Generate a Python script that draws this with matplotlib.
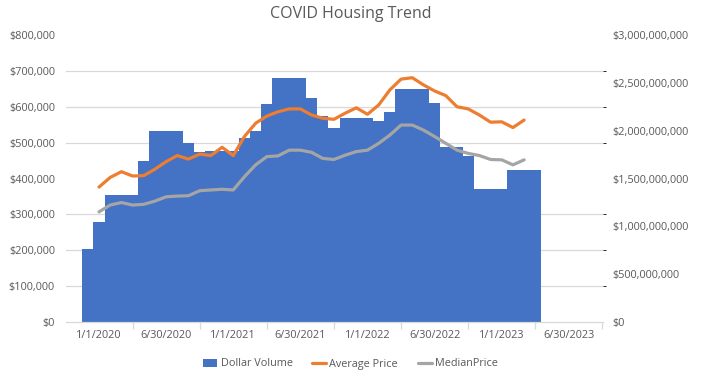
import numpy as np
import matplotlib
matplotlib.use("Agg")
import matplotlib.pyplot as plt
from matplotlib.ticker import FuncFormatter, FixedLocator, MultipleLocator

plt.rcParams["font.family"] = ["Open Sans", "DejaVu Sans"]

# month index: 0 = Jan 2020
bar_months = np.arange(-1, 40)
dollar_volume = np.array([
    766, 1048, 1324, 1324, 1324, 1686, 1997, 1997, 1997, 1868,
    1775, 1785, 1785, 1785, 1927, 1997, 2276, 2547, 2547, 2547,
    2345, 2157, 2031, 2129, 2129, 2129, 2104, 2192, 2432, 2432,
    2432, 2286, 1826, 1826, 1740, 1387, 1387, 1387, 1589, 1589,
    1589]) * 1e6

line_months = np.arange(0, 39)
average_price = np.array([
    376, 403, 419, 407, 408, 426, 447, 464, 454, 468,
    464, 487, 464, 517, 554, 574, 586, 594, 594, 577,
    568, 565, 582, 597, 579, 605, 647, 677, 681, 661,
    644, 631, 600, 594, 577, 557, 558, 542, 563]) * 1e3
median_price = np.array([
    307, 326, 333, 326, 328, 337, 349, 351, 352, 366,
    368, 370, 368, 405, 438, 461, 463, 479, 479, 473,
    456, 453, 465, 475, 479, 498, 521, 549, 549, 535,
    517, 498, 479, 470, 464, 453, 452, 438, 452]) * 1e3

label_months = [0, 6, 12, 18, 24, 30, 36, 42]
tick_labels = ["1/1/2020", "6/30/2020", "1/1/2021", "6/30/2021",
               "1/1/2022", "6/30/2022", "1/1/2023", "6/30/2023"]

BLUE = "#4472C4"
ORANGE = "#ED7D31"
GRAY = "#A5A5A5"
TEXT = "#595959"
GRID = "#D9D9D9"

fig = plt.figure(figsize=(7.01, 3.83), dpi=100)
ax = fig.add_axes([66 / 701, 61 / 383, 537 / 701, 287 / 383])
ax2 = ax.twinx()

# bars on the secondary axis, drawn underneath the lines
ax2.bar(bar_months, dollar_volume, width=1.0, color=BLUE, label="Dollar Volume", zorder=2)
ax2.set_ylim(0, 3e9)
ax2.yaxis.set_major_locator(MultipleLocator(5e8))
ax2.yaxis.set_major_formatter(FuncFormatter(lambda v, p: f"${v:,.0f}"))
# gridlines every $100,000 on the left scale (= 375M on the right scale)
ax2.yaxis.set_minor_locator(MultipleLocator(3.75e8))
ax2.grid(axis="y", which="minor", color=GRID, linewidth=0.9, zorder=0)
ax2.set_axisbelow(True)

ax.set_zorder(ax2.get_zorder() + 1)
ax.patch.set_visible(False)

ax.plot(line_months, average_price, color=ORANGE, linewidth=2.3, label="Average Price",
        solid_capstyle="round")
ax.plot(line_months, median_price, color=GRAY, linewidth=2.3, label="MedianPrice",
        solid_capstyle="round")
ax.set_ylim(0, 800000)
ax.yaxis.set_major_locator(MultipleLocator(100000))
ax.yaxis.set_major_formatter(FuncFormatter(lambda v, p: f"${v:,.0f}"))

ax.set_xlim(-2.95, 45.05)
ax.xaxis.set_major_locator(FixedLocator(label_months))
ax.set_xticklabels(tick_labels)
ax.xaxis.set_minor_locator(FixedLocator(np.arange(-3, 46, 6)))
ax.tick_params(axis="x", which="major", length=0, labelsize=7.8, labelcolor=TEXT, pad=6)
ax.tick_params(axis="x", which="minor", length=5, color=GRID, width=0.9)

for a in (ax, ax2):
    for s in a.spines.values():
        s.set_visible(False)
    a.tick_params(axis="y", length=0, labelsize=7.8, labelcolor=TEXT)
ax.tick_params(axis="y", pad=8)
ax2.tick_params(axis="y", pad=7)
ax2.tick_params(axis="x", length=0)
ax.spines["bottom"].set_visible(True)
ax.spines["bottom"].set_color(GRID)
ax.spines["bottom"].set_linewidth(0.9)

fig.suptitle("COVID Housing Trend", y=0.985, fontsize=11.5, color=TEXT)

handles = [ax2.containers[0]] + ax.get_lines()
labels = ["Dollar Volume", "Average Price", "MedianPrice"]
fig.legend(handles, labels, loc="center", bbox_to_anchor=(0.5, 1 - 364 / 383), ncol=3,
           frameon=False, fontsize=7.8, labelcolor=TEXT, handlelength=1.3,
           handletextpad=0.3, columnspacing=1.8)

fig.savefig("out.png", dpi=100)
